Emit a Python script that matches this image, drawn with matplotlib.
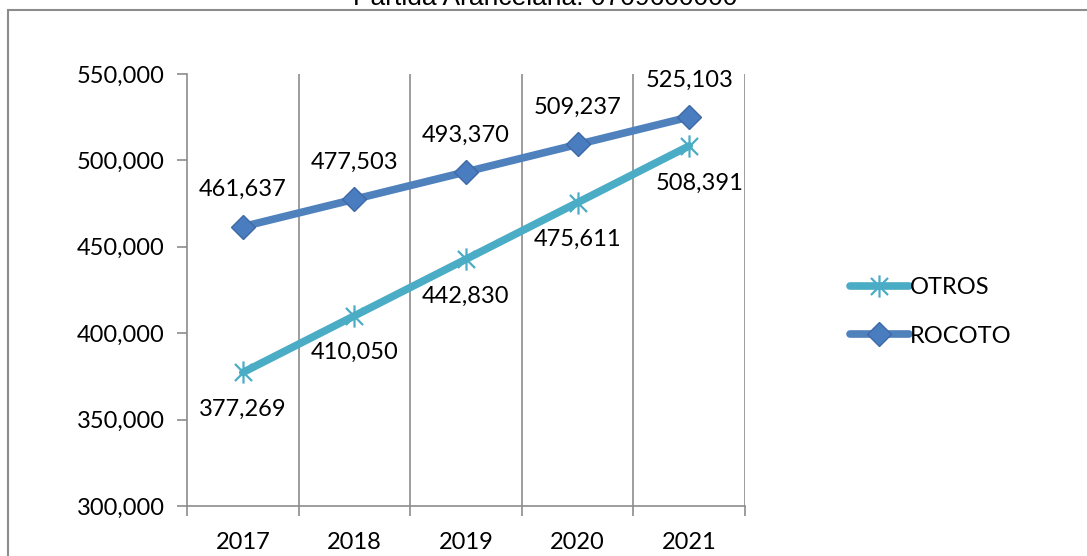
import matplotlib
matplotlib.use("Agg")
import matplotlib.pyplot as plt
from matplotlib.path import Path
from matplotlib.patches import Rectangle

# Data
years = ["2017", "2018", "2019", "2020", "2021"]
otros = [377269, 410050, 442830, 475611, 508391]
rocoto = [461637, 477503, 493370, 509237, 525103]
title = "Partida Arancelaria: 0709600000"

W, H, DPI = 1087, 556, 100
fig = plt.figure(figsize=(W / DPI, H / DPI), dpi=DPI)
plt.rcParams["font.family"] = ["Lato", "DejaVu Sans"]

def px(x0, y0, x1, y1):
    return [x0 / W, 1 - y1 / H, (x1 - x0) / W, (y1 - y0) / H]

ax = fig.add_axes(px(187, 74, 745, 506))

# chart frame and title
fig.patches.append(Rectangle((8 / W, -0.05), 1.1, 1 - 10.5 / H + 0.05,
                             transform=fig.transFigure, fill=False,
                             edgecolor="#8c8c8c", linewidth=1.5))
fig.text(545 / W, 1 - 5 / H, title, ha="center", va="baseline",
         fontsize=19, family="Liberation Sans", color="#000000")

x = list(range(len(years)))
grid_c = "#8c8c8c"

# vertical gridlines at category boundaries
for b in [0.5, 1.5, 2.5, 3.5, 4.5]:
    ax.axvline(b, color=grid_c, lw=1.2, zorder=0)

star = Path([(-1, -1), (1, 1), (-1, 1), (1, -1), (0, -1.3), (0, 1.3)],
            [Path.MOVETO, Path.LINETO, Path.MOVETO, Path.LINETO,
             Path.MOVETO, Path.LINETO])

c_otros = "#4BACC6"
c_roc = "#4F81BD"
ax.plot(x, otros, color=c_otros, lw=5.5, marker=star, markersize=16,
        markeredgewidth=1.6, markeredgecolor=c_otros, label="OTROS",
        solid_capstyle="round", zorder=3)
ax.plot(x, rocoto, color=c_roc, lw=5.5, marker="D", markersize=12.5,
        markerfacecolor="#4a7dc0", markeredgecolor="#3d6aa6",
        markeredgewidth=1, label="ROCOTO", solid_capstyle="round", zorder=4)

fs = 17
for i, v in enumerate(rocoto):
    ax.annotate(f"{v:,}", (i, v), xytext=(0, 37), textcoords="offset pixels",
                ha="center", va="center", fontsize=fs)
for i, v in enumerate(otros):
    dx = 10 if i == len(otros) - 1 else 0
    ax.annotate(f"{v:,}", (i, v), xytext=(dx, -37), textcoords="offset pixels",
                ha="center", va="center", fontsize=fs)

ax.set_xlim(-0.5, 4.5)
ax.set_ylim(300000, 550000)
ax.set_yticks(range(300000, 550001, 50000))
ax.yaxis.set_major_formatter(matplotlib.ticker.FuncFormatter(lambda v, p: f"{int(v):,}"))
ax.set_xticks(x)
ax.set_xticklabels(years)
ax.set_xticks([-0.5, 0.5, 1.5, 2.5, 3.5, 4.5], minor=True)
ax.tick_params(axis="x", which="major", length=0, pad=19, labelsize=fs)
ax.tick_params(axis="x", which="minor", length=7, color=grid_c, width=1.2)
ax.tick_params(axis="y", length=7, color=grid_c, width=1.2, pad=9, labelsize=fs)

for s in ["top", "right"]:
    ax.spines[s].set_visible(False)
for s in ["left", "bottom"]:
    ax.spines[s].set_color(grid_c)
    ax.spines[s].set_linewidth(1.2)

leg = ax.legend(loc="center left", bbox_to_anchor=(855 / W - 0.005, 1 - 312 / H),
                bbox_transform=fig.transFigure, frameon=False, fontsize=fs,
                handlelength=2.5, handletextpad=0.05, labelspacing=1.15,
                borderpad=0, borderaxespad=0)

fig.savefig("out.png", dpi=DPI)
